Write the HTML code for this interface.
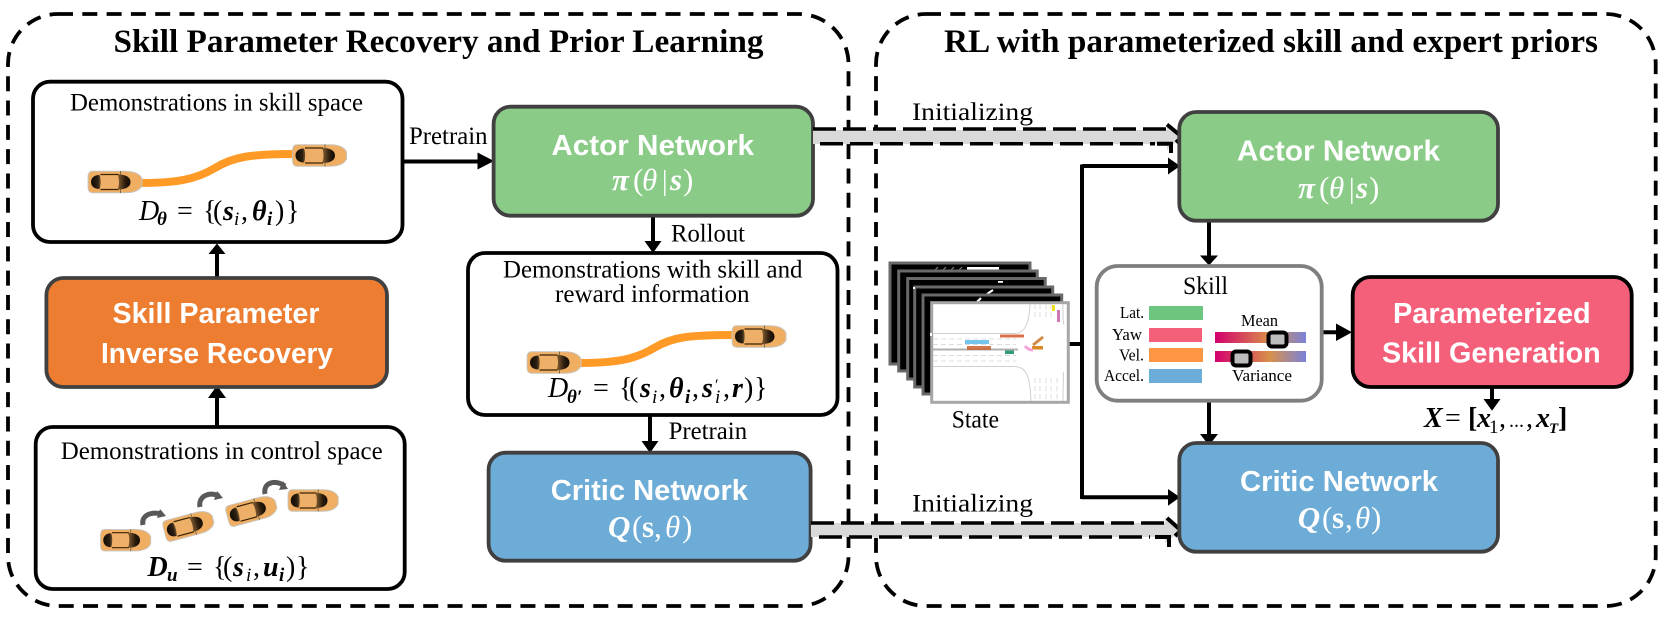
<!DOCTYPE html>
<html><head><meta charset="utf-8">
<style>
html,body{margin:0;padding:0;background:#fff;width:1670px;height:621px;overflow:hidden}
svg{display:block}
text{font-family:"Liberation Serif",serif;fill:#000}
.t{font-weight:bold;font-size:33px}
.l{font-size:25px}
.s{font-size:16.5px}
.w{font-family:"Liberation Sans",sans-serif;font-weight:bold;font-size:29px;fill:#fff}
.m{font-size:28px}
.bi{font-size:28px;font-weight:bold;font-style:italic}
.i{font-size:28px;font-style:italic}
.sub{font-size:19px;font-weight:bold;font-style:italic}
.wm{font-size:31px;fill:#fff}
.wb{font-size:31px;fill:#fff;font-weight:bold;font-style:italic}
.wi{font-size:31px;fill:#fff;font-style:italic}
.box{stroke:#404040;stroke-width:3.8}
.wbox{fill:#fff;stroke:#000;stroke-width:3.8}
.ln{stroke:#000;stroke-width:4;fill:none}
.ds{stroke:#000;stroke-width:3.5;fill:none;stroke-dasharray:23 7}
.fr{fill:#000;stroke:#6a6868;stroke-width:3}
</style></head><body>
<svg width="1670" height="621" viewBox="0 0 1670 621" xmlns="http://www.w3.org/2000/svg">
<defs>
<linearGradient id="ws" x1="0" x2="1" y1="0" y2="0"><stop offset="0" stop-color="#8a6234"/><stop offset=".6" stop-color="#2a1c0c"/><stop offset="1" stop-color="#120c05"/></linearGradient>
<linearGradient id="rw" x1="0" x2="1" y1="0" y2="0"><stop offset="0" stop-color="#120d07"/><stop offset=".7" stop-color="#2a1e10"/><stop offset="1" stop-color="#6e5230"/></linearGradient>
<linearGradient id="sl" x1="0" x2="1" y1="0" y2="0"><stop offset="0" stop-color="#d4006e"/><stop offset=".6" stop-color="#d8904a"/><stop offset="1" stop-color="#7b82da"/></linearGradient>
<g id="car">
<path d="M5 .8H38C46 .8 52 3 54.5 8V15C52 20 46 22.2 38 22.2H5C2 22.2 .6 20 .6 17V6C.6 3 2 .8 5 .8Z" fill="#efae62" stroke="#c9c4bc" stroke-width="1"/>
<path d="M12 4.5C6 4.5 3.5 8 3.5 11.5S6 18.5 12 18.5C13.5 15 13.5 8 12 4.5Z" fill="url(#rw)"/>
<rect x="14" y="5" width="17" height="13" fill="#eeb069"/>
<path d="M30 4C39 4 43 7 43 11.5S39 19 30 19C32 15 32 8 30 4Z" fill="url(#ws)"/>
<path d="M13 4H31M13 19H31" stroke="#3a2408" stroke-width="1.2"/>
<path d="M33 .5V4M33 19V22.5" stroke="#7a6a4a" stroke-width="1"/>
</g>
</defs>

<!-- containers -->
<rect x="8" y="14" width="840.5" height="592" rx="50" fill="none" stroke="#000" stroke-width="3.8" stroke-dasharray="15 9.3"/>
<rect x="876" y="14" width="779.7" height="592" rx="50" fill="none" stroke="#000" stroke-width="3.8" stroke-dasharray="15 9.3"/>

<text class="t" x="113.5" y="52" textLength="650" lengthAdjust="spacingAndGlyphs">Skill Parameter Recovery and Prior Learning</text>
<text class="t" x="944" y="52" textLength="654" lengthAdjust="spacingAndGlyphs">RL with parameterized skill and expert priors</text>

<!-- left: arrows -->
<path class="ln" d="M402 161.5H480M217 278V250M217 427V395M653 216V244M650 415V444"/>
<polygon points="477.5,152.5 494,161 477.5,169.5"/>
<polygon points="208.5,254 217,243.5 225.5,254"/>
<polygon points="208,398 217,385.5 226,398"/>
<polygon points="644.5,241 661.5,241 653,253"/>
<polygon points="641.5,441 658.5,441 650,453"/>

<!-- box 1 -->
<rect class="wbox" x="33" y="81.7" width="369.5" height="160.3" rx="17"/>
<text class="l" x="70" y="110.7" textLength="293" lengthAdjust="spacingAndGlyphs">Demonstrations in skill space</text>
<path d="M140 183C175 183 195 180 215 168C233 157 250 154 294 154" fill="none" stroke="#ff9a26" stroke-width="8"/>
<use href="#car" x="87.5" y="170.5"/>
<use href="#car" x="292" y="144"/>
<text class="i" x="139" y="220">D</text><text class="sub" x="157" y="225">θ</text>
<text class="m" x="177" y="220">=</text>
<text class="m" x="203" y="220">{</text><text class="m" x="213" y="220">(</text>
<text class="bi" x="223" y="220">s</text><text class="sub" x="234" y="225" style="font-weight:normal">i</text><text class="m" x="241" y="220">,</text>
<text class="bi" x="252" y="220">θ</text><text class="sub" x="267" y="225">i</text>
<text class="m" x="275" y="220">)</text><text class="m" x="286" y="220">}</text>

<!-- orange -->
<rect class="box" x="46.4" y="278" width="340.6" height="109" rx="17" fill="#ed7d31"/>
<text class="w" x="112.5" y="323" textLength="207" lengthAdjust="spacingAndGlyphs">Skill Parameter</text>
<text class="w" x="101" y="363" textLength="232" lengthAdjust="spacingAndGlyphs">Inverse Recovery</text>

<!-- box bottom -->
<rect class="wbox" x="35.7" y="427" width="369" height="162" rx="17"/>
<text class="l" x="60.7" y="459" textLength="322" lengthAdjust="spacingAndGlyphs">Demonstrations in control space</text>
<g fill="none" stroke="#595959" stroke-width="5">
<path d="M143 525C141 516 150 511 162 514"/><path d="M200 507C198 497 208 491 219 496"/><path d="M265 494C263 483 274 479 285 486"/>
</g>
<g fill="#595959"><polygon points="160,509 166,516 157,518"/><polygon points="217,491 223,498 214,500"/><polygon points="283,481 288,489 279,490"/></g>
<use href="#car" transform="translate(100 528.7) scale(.93 1)"/>
<use href="#car" transform="translate(161 521) rotate(-15) scale(.93 1)"/>
<use href="#car" transform="translate(224 506) rotate(-15) scale(.93 1)"/>
<use href="#car" transform="translate(287.5 489) scale(.93 1)"/>
<text class="bi" x="147.5" y="576">D</text><text class="sub" x="167" y="581">u</text>
<text class="m" x="187" y="576">=</text>
<text class="m" x="213" y="576">{</text><text class="m" x="223" y="576">(</text>
<text class="bi" x="233" y="576">s</text><text class="sub" x="246" y="581" style="font-weight:normal">i</text><text class="m" x="253" y="576">,</text>
<text class="bi" x="263" y="576">u</text><text class="sub" x="279" y="581">i</text>
<text class="m" x="286" y="576">)</text><text class="m" x="296" y="576">}</text>

<!-- actor left -->
<rect class="box" x="493.6" y="106.7" width="319.4" height="109" rx="17" fill="#8acc87"/>
<text class="w" x="551.4" y="155" textLength="202.6" lengthAdjust="spacingAndGlyphs">Actor Network</text>
<text class="wb" x="612" y="190">π</text><text class="wm" x="633" y="190">(</text><text class="wi" x="642" y="190">θ</text><text class="wm" x="662" y="190" style="font-size:28px">|</text><text class="wb" x="670" y="190">s</text><text class="wm" x="683" y="190">)</text>
<text class="l" x="671" y="241.7" textLength="74" lengthAdjust="spacingAndGlyphs">Rollout</text>
<text class="l" x="409" y="144" textLength="78.5" lengthAdjust="spacingAndGlyphs">Pretrain</text>

<!-- middle -->
<rect class="wbox" x="468" y="253" width="369.5" height="162" rx="17"/>
<text class="l" x="503" y="277.7" textLength="299.5" lengthAdjust="spacingAndGlyphs">Demonstrations with skill and</text>
<text class="l" x="555" y="302" textLength="194.6" lengthAdjust="spacingAndGlyphs">reward information</text>
<path d="M579 363C614 363 634 360 654 348C672 337 689 335 733 335" fill="none" stroke="#ff9a26" stroke-width="8"/>
<use href="#car" x="526.5" y="351"/>
<use href="#car" x="731.5" y="325"/>
<text class="i" x="548" y="397">D</text><text class="sub" x="567" y="403">θ′</text>
<text class="m" x="593" y="397">=</text>
<text class="m" x="619" y="397">{</text><text class="m" x="629" y="397">(</text>
<text class="bi" x="640" y="397">s</text><text class="sub" x="652" y="403" style="font-weight:normal">i</text><text class="m" x="659" y="397">,</text>
<text class="bi" x="669" y="397">θ</text><text class="sub" x="685" y="403">i</text><text class="m" x="692" y="397">,</text>
<text class="bi" x="702" y="397">s</text><text class="sub" x="715" y="403" style="font-weight:normal">i</text><text class="m" x="715" y="390" style="font-size:16px">′</text><text class="m" x="723" y="397">,</text>
<text class="bi" x="732" y="397">r</text>
<text class="m" x="744" y="397">)</text><text class="m" x="754" y="397">}</text>
<text class="l" x="668.6" y="439" textLength="78.5" lengthAdjust="spacingAndGlyphs">Pretrain</text>

<!-- critic left -->
<rect class="box" x="488.6" y="452.7" width="322" height="108" rx="17" fill="#6cacd6"/>
<text class="w" x="550.7" y="500" textLength="197.3" lengthAdjust="spacingAndGlyphs">Critic Network</text>
<text class="wb" x="608" y="537">Q</text><text class="wm" x="632" y="537">(</text><text class="wb" x="642" y="537" style="font-style:normal">s</text><text class="wm" x="654" y="537">,</text><text class="wi" x="665" y="537">θ</text><text class="wm" x="682" y="537">)</text>

<!-- initializing bands -->
<polygon points="813,130 1167,130 1167,124 1182,137 1167,150 1167,144 813,144" fill="#d9d9d9"/>
<polygon points="811,523 1165,523 1165,517 1182,530 1165,543 1165,537 811,537" fill="#d9d9d9"/>
<path class="ds" d="M813 129H1168"/><path class="ds" d="M820 143.7H1155"/>
<path class="ds" d="M811 523H1166"/><path class="ds" d="M819 537H1150"/>
<path d="M1167 124.5L1182 137L1176 142.5" fill="none" stroke="#000" stroke-width="4"/>
<path d="M1157 143.7H1171V153" fill="none" stroke="#000" stroke-width="4"/>
<path d="M1167 518L1181 530.5L1175 536" fill="none" stroke="#000" stroke-width="4"/>
<path d="M1155 537H1169V547" fill="none" stroke="#000" stroke-width="4"/>
<text class="l" x="912" y="120" textLength="121" lengthAdjust="spacingAndGlyphs">Initializing</text>
<text class="l" x="912" y="511.7" textLength="121" lengthAdjust="spacingAndGlyphs">Initializing</text>

<!-- right: connectors -->
<path class="ln" d="M1069 344H1082M1082 166H1170M1082 497.3H1170M1082 164.5V499M1209 221V258M1209 400V437M1322 332.3H1338M1492 388V402"/>
<polygon points="1168,157.5 1180,166 1168,174.5"/>
<polygon points="1168,489 1180,497.3 1168,505.7"/>
<polygon points="1200,255.5 1218,255.5 1209,265.5"/>
<polygon points="1200,434 1218,434 1209,445.5"/>
<polygon points="1336,323.5 1352,332.3 1336,341"/>
<polygon points="1483.5,399 1500.5,399 1492,410.7"/>

<!-- actor right -->
<rect class="box" x="1179.3" y="112" width="318.7" height="108.7" rx="17" fill="#8acc87"/>
<text class="w" x="1237" y="160.7" textLength="203" lengthAdjust="spacingAndGlyphs">Actor Network</text>
<text class="wb" x="1298" y="198">π</text><text class="wm" x="1319" y="198">(</text><text class="wi" x="1329" y="198">θ</text><text class="wm" x="1349" y="198" style="font-size:28px">|</text><text class="wb" x="1356" y="198">s</text><text class="wm" x="1369" y="198">)</text>

<!-- critic right -->
<rect class="box" x="1179.3" y="443" width="318.7" height="108.7" rx="17" fill="#6cacd6"/>
<text class="w" x="1240" y="491" textLength="198" lengthAdjust="spacingAndGlyphs">Critic Network</text>
<text class="wi" x="1297.7" y="528" style="font-weight:bold">Q</text><text class="wm" x="1322" y="528">(</text><text class="wb" x="1332" y="528" style="font-style:normal">s</text><text class="wm" x="1345" y="528">,</text><text class="wi" x="1355" y="528">θ</text><text class="wm" x="1371" y="528">)</text>

<!-- param -->
<rect x="1352.7" y="277" width="279" height="110" rx="18" fill="#f4607a" stroke="#000" stroke-width="3.8"/>
<text class="w" x="1393" y="323" textLength="197.7" lengthAdjust="spacingAndGlyphs">Parameterized</text>
<text class="w" x="1382" y="362.7" textLength="218.7" lengthAdjust="spacingAndGlyphs">Skill Generation</text>
<text class="bi" x="1424" y="427">X</text><text class="m" x="1445" y="427">=</text><text class="m" x="1468" y="427" style="font-weight:bold">[</text>
<text class="bi" x="1477" y="427">x</text><text class="sub" x="1489" y="433" style="font-style:normal;font-weight:normal">1</text><text class="m" x="1499" y="427">,</text>
<text class="m" x="1509" y="427" style="font-size:20px">...</text><text class="m" x="1526" y="427">,</text>
<text class="bi" x="1536" y="427">x</text><text class="sub" x="1549" y="433" style="font-size:15px">T</text><text class="m" x="1558" y="427" style="font-weight:bold">]</text>

<!-- skill panel -->
<rect x="1096.7" y="266" width="225" height="134.7" rx="21" fill="#fff" stroke="#7f7f7f" stroke-width="3.8"/>
<text class="l" x="1183" y="294" textLength="45" lengthAdjust="spacingAndGlyphs">Skill</text>
<rect x="1149" y="306" width="54" height="14" fill="#6cc680"/>
<rect x="1149" y="328" width="53" height="14" fill="#f4607a"/>
<rect x="1149" y="348" width="54" height="14" fill="#ff9645"/>
<rect x="1149" y="369" width="53" height="14" fill="#6cacd8"/>
<text class="s" x="1120" y="318" textLength="24" lengthAdjust="spacingAndGlyphs">Lat.</text>
<text class="s" x="1112" y="340" textLength="30" lengthAdjust="spacingAndGlyphs">Yaw</text>
<text class="s" x="1119" y="360.7" textLength="25" lengthAdjust="spacingAndGlyphs">Vel.</text>
<text class="s" x="1104" y="381" textLength="40" lengthAdjust="spacingAndGlyphs">Accel.</text>
<text class="s" x="1241" y="326" textLength="37" lengthAdjust="spacingAndGlyphs">Mean</text>
<text class="s" x="1232" y="381" textLength="60" lengthAdjust="spacingAndGlyphs">Variance</text>
<rect x="1215" y="332" width="91" height="11" fill="url(#sl)"/>
<rect x="1215" y="351" width="91" height="11" fill="url(#sl)"/>
<rect x="1268.5" y="332.5" width="18" height="14" rx="3.5" fill="#bdbdbd" stroke="#000" stroke-width="4"/>
<rect x="1232.5" y="351.5" width="18" height="14" rx="3.5" fill="#bdbdbd" stroke="#000" stroke-width="4"/>

<!-- state stack -->
<rect class="fr" x="890" y="263" width="140" height="101"/>
<rect x="967" y="267" width="32" height="3" fill="#fff"/>
<path d="M935 270l3-3M943 270l3-3M951 270l3-3M959 270l3-3" stroke="#888" stroke-width="1"/>
<rect class="fr" x="898.7" y="271" width="138.5" height="100"/>
<rect class="fr" x="907.7" y="278.5" width="137.5" height="100.5"/>
<rect x="998" y="281" width="5" height="1.8" fill="#fff"/>
<rect class="fr" x="914.7" y="287" width="138" height="100"/>
<path d="M987 294l6-4" stroke="#fff" stroke-width="2"/>
<rect x="913" y="287" width="2" height="2" fill="#fff"/>
<rect class="fr" x="923" y="295" width="138.7" height="99"/>
<path d="M977 302l4-4" stroke="#fff" stroke-width="2"/>
<rect x="931.7" y="302.7" width="136.6" height="99.6" fill="#fff" stroke="#a6a6a6" stroke-width="3"/>
<!-- road -->
<g fill="none" stroke="#cfcfcf" stroke-width="1">
<path d="M933 333.5H1015C1024 333 1029 326 1030 304"/>
<path d="M1063 304C1063 318 1063 322 1064 325"/>
<path d="M933 366.5H1015C1025 367 1030 373 1031 401"/>
<path d="M1063 372C1064 372 1063 385 1063 401"/>
<path d="M933 349H1018M933 350H1018" stroke="#b0b0b0"/>
</g>
<g fill="none" stroke="#dcdcdc" stroke-width="1" stroke-dasharray="5 3">
<path d="M933 339H1016M933 344.5H1016M933 355.5H1016M933 361H1016"/>
<path d="M1035 304V320M1040 304V320M1046 304V320M1051 304V320"/>
<path d="M1035 378V401M1040 378V401M1046 378V401M1051 378V401M1057 378V401"/>
</g>
<rect x="1000" y="334.5" width="24" height="3" fill="#d2592a" opacity=".85"/>
<rect x="965" y="340" width="24" height="4" fill="#5cb8ea" opacity=".85"/>
<rect x="967" y="346" width="24" height="4" fill="#c9622f" opacity=".85"/>
<rect x="1005" y="350.5" width="9" height="3.5" fill="#2f9d7a"/>
<path d="M1033 345L1043 337" stroke="#cf8a4a" stroke-width="3"/>
<rect x="1032" y="346" width="11" height="3.5" fill="#d98a24"/>
<path d="M1025 346Q1028 350 1033 350" stroke="#f4a3d8" stroke-width="3" fill="none"/>
<rect x="1052" y="305" width="3" height="6" fill="#f0e020"/>
<rect x="1057" y="310" width="3" height="12" fill="#cf78b8"/>
<rect x="930" y="333" width="2" height="3" fill="#fff"/>
<text class="l" x="951.7" y="427.7" textLength="47.3" lengthAdjust="spacingAndGlyphs">State</text>
</svg>
</body></html>
